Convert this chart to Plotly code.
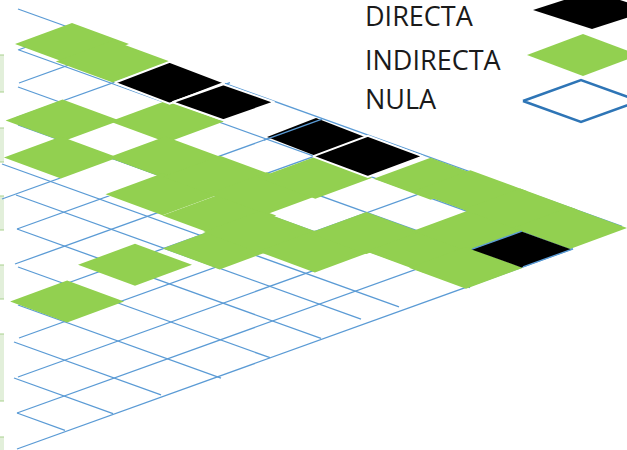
import plotly.graph_objects as go

# Influence matrix: one string per column of the triangle, read top to bottom.
# D = directa, I = indirecta, N = nula
col_states = [
    "INIINNNINNN",
    "INNNNNNNNN",
    "DIIINNNNN",
    "DNIIINNN",
    "NNIINNN",
    "DININN",
    "DNINN",
    "ININ",
    "III",
    "ID",
    "I",
]

# one diamond sits off the lattice
extra_col = [1.34]
extra_row = [5.33]

# nula cells drawn with a plain white fill over the grid
white_col = [1, 1]
white_row = [2, 3]

fall_start_x = [17, 14, 14, 18, 18, 17, 16, 2, 18, 18, 19, 18]
fall_start_y = [413, 378, 342, 305, 267, 229, 195, 164, 125, 87, 50, 9]
fall_end_x = [65, 113, 161, 221, 270, 321, 361, 399, 470, 520, 572, 622]
rise_start_x = [17, 17, 18, 19, 15, 15, 17, 2, 15, 15, 19, 18]
rise_start_y = [449, 413, 377, 338, 302, 264, 229, 199, 160, 118, 83, 50]
rise_end_x = [573, 567, 517, 467, 417, 367, 317, 267, 230, 167, 117, 67]

legend_labels = ["DIRECTA", "INDIRECTA", "NULA"]
band_top = [55, 128, 196, 265, 334, 437]
band_bottom = [92, 162, 230, 299, 401, 450]

GREEN = "#92d050"
BLACK = "#000000"
BLUE = "#5b9bd5"
BORDER = "#2e75b6"
BAND = "#e2efda"
BAND_LINE = "#a9d18e"

P0x, P0y = 72.0, 44.0
FX, FY = 49.8, 18.4
RX, RY = 50.5, -18.4
HW, HH = 57.0, 21.0
FS = 0.36

# hand-drawn look: small offsets of individual diamonds from the lattice
NUDGE = {
    (1, 0): (-9, -1), (2, 0): (-2, 2), (3, 0): (2, 3), (0, 2): (-8, 3), (0, 3): (-9, 3),
    (1, 2): (-7, 4), (1, 3): (-9, 5),
    (2, 1): (-4, 4), (2, 2): (-5, 3), (2, 3): (-7, 3), (3, 2): (0, 4), (3, 3): (0, 6),
    (3, 4): (1, 2), (4, 2): (-3, 2), (4, 3): (-9, 4), (5, 0): (-5, 1), (5, 1): (-5, 5),
    (5, 3): (-4, 5), (6, 0): (-3, 2), (6, 2): (-3, 5), (7, 0): (10, 6), (7, 2): (4, 5),
    (8, 1): (0, 3), (8, 2): (-3, 3), (9, 1): (2, 3),
}
BLACK_SIZE = {(2, 0): (55, 21), (3, 0): (51, 18), (5, 0): (49, 19), (6, 0): (55, 20.5), (9, 1): (50, 18)}
NO_OUTLINE = {(5, 0), (9, 1)}
# rising-line pieces that lie above the black diamonds: line index, from x, to x
over_line = [0, 1, 6]
over_from = [523, 472, 264]
over_to = [573, 522, 322]


def center(c, m):
    dx, dy = NUDGE.get((c, m), (0, 0))
    return P0x + (c + m) * FX - m * RX + dx, P0y + (c + m) * FY - m * RY + dy


def diamond(cx, cy, hw=HW, hh=HH):
    return [cx - hw, cx, cx + hw, cx, cx - hw], [cy, cy - hh, cy, cy + hh, cy]


fig = go.Figure()


def poly(x, y, fill, line=None, width=0):
    fig.add_trace(go.Scatter(
        x=x, y=y, mode="lines", fill="toself", fillcolor=fill,
        line=dict(color=line or fill, width=width),
        hoverinfo="skip", showlegend=False))


def seg(x, y, color=BLUE, width=1.3):
    fig.add_trace(go.Scatter(x=x, y=y, mode="lines", line=dict(color=color, width=width),
                             hoverinfo="skip", showlegend=False))


for t, b in zip(band_top, band_bottom):
    poly([0, 4, 4, 0, 0], [t, t, b, b, t], BAND)
    seg([0, 4], [t, t], BAND_LINE, 1)
    if b < 450:
        seg([0, 4], [b, b], BAND_LINE, 1)

for x0, y0, x1 in zip(fall_start_x, fall_start_y, fall_end_x):
    seg([x0, x1], [y0, y0 + (x1 - x0) * FS])
for x0, y0, x1 in zip(rise_start_x, rise_start_y, rise_end_x):
    seg([x0, x1], [y0, y0 - (x1 - x0) * FS])

for c, m in zip(white_col, white_row):
    x, y = diamond(*center(c, m), 52, 19)
    poly(x, y, "#ffffff")
for c, states in enumerate(col_states):
    for m, s in enumerate(states):
        if s == "I":
            x, y = diamond(*center(c, m))
            poly(x, y, GREEN)
for c, m in zip(extra_col, extra_row):
    x, y = diamond(*center(c, m))
    poly(x, y, GREEN)
for c, states in enumerate(col_states):
    for m, s in enumerate(states):
        if s == "D":
            x, y = diamond(*center(c, m), *BLACK_SIZE.get((c, m), (53, 20)))
            if (c, m) in NO_OUTLINE:
                poly(x, y, BLACK)
            else:
                poly(x, y, BLACK, "#ffffff", 2)

for j, a, b in zip(over_line, over_from, over_to):
    x0, y0 = rise_start_x[j], rise_start_y[j]
    seg([a, b], [y0 - (a - x0) * FS, y0 - (b - x0) * FS])

# legend keys
x, y = diamond(592, 10, 59, 19)
poly(x, y, BLACK)
x, y = diamond(583, 55, 56, 21)
poly(x, y, GREEN)
x, y = diamond(581, 101, 58, 21)
poly(x, y, "#ffffff", BORDER, 2.5)

for label, ty in zip(legend_labels, [15, 59, 98]):
    fig.add_annotation(x=364, y=ty, text=label, showarrow=False, xanchor="left", yanchor="middle",
                       height=28, borderpad=0, valign="middle",
                       font=dict(family="Open Sans", size=27, color="#1a1a1a"))

fig.update_layout(
    width=627, height=450, margin=dict(l=0, r=0, t=0, b=0),
    paper_bgcolor="white", plot_bgcolor="white", showlegend=False,
    xaxis=dict(range=[0, 627], visible=False, fixedrange=True),
    yaxis=dict(range=[450, 0], visible=False, fixedrange=True),
)
fig.write_html("out.html", config={"displayModeBar": False},
               post_script="document.body.style.margin='0';document.body.style.overflow='hidden';")
